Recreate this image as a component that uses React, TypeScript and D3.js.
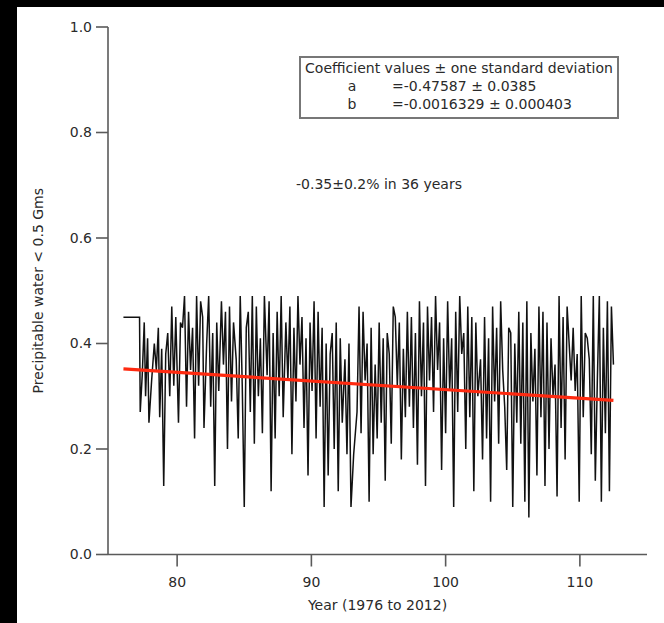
import React from "react";
import * as d3 from "d3";

// Observations: [year offset from 1900, precipitable water fraction]
const years: number[] = [
  76.0, 77.2, 77.25, 77.4, 77.55, 77.65, 77.8, 77.9, 78.1, 78.3, 78.45, 78.6, 78.7, 78.85, 79.0, 79.15, 79.3, 79.45, 79.6, 79.75, 79.9,
  80.1, 80.25, 80.4, 80.55, 80.7, 80.85, 81.0, 81.15, 81.3, 81.45, 81.6, 81.75, 81.9, 82.0, 82.2, 82.35, 82.5, 82.65, 82.8, 82.95,
  83.1, 83.3, 83.45, 83.6, 83.75, 83.9, 84.05, 84.2, 84.4, 84.55, 84.7, 84.85, 85.0, 85.15, 85.3, 85.45, 85.6, 85.75, 85.9,
  86.05, 86.2, 86.35, 86.5, 86.7, 86.85, 87.0, 87.15, 87.3, 87.45, 87.6, 87.75, 87.9, 88.1, 88.25, 88.4, 88.55, 88.7, 88.85,
  89.0, 89.15, 89.3, 89.45, 89.6, 89.75, 89.9, 90.05, 90.2, 90.35, 90.5, 90.65, 90.8, 90.95, 91.1, 91.25, 91.4, 91.55, 91.7, 91.85,
  92.0, 92.15, 92.3, 92.5, 92.65, 92.8, 92.95, 93.15, 93.4, 93.55, 93.7, 93.85, 94.0, 94.15, 94.3, 94.45, 94.6, 94.75, 94.9,
  95.05, 95.2, 95.35, 95.5, 95.65, 95.8, 95.95, 96.1, 96.25, 96.4, 96.55, 96.7, 96.85, 97.0, 97.15, 97.3, 97.45, 97.6, 97.75, 97.9,
  98.05, 98.2, 98.35, 98.5, 98.65, 98.8, 98.95, 99.1, 99.25, 99.4, 99.55, 99.7, 99.85, 100.0, 100.15, 100.3, 100.45, 100.6, 100.75, 100.9,
  101.05, 101.2, 101.35, 101.5, 101.65, 101.8, 101.95, 102.1, 102.25, 102.4, 102.6, 102.75, 102.9, 103.05, 103.2, 103.35, 103.5, 103.65, 103.8, 103.95,
  104.1, 104.25, 104.4, 104.55, 104.7, 104.85, 105.0, 105.15, 105.3, 105.45, 105.6, 105.75, 105.9, 106.05, 106.2, 106.35, 106.5, 106.65, 106.8, 106.95,
  107.1, 107.25, 107.4, 107.55, 107.7, 107.85, 108.0, 108.15, 108.3, 108.45, 108.6, 108.75, 108.9, 109.05, 109.2, 109.35, 109.5, 109.65, 109.8, 109.95,
  110.1, 110.25, 110.4, 110.55, 110.7, 110.85, 111.0, 111.15, 111.3, 111.45, 111.6, 111.75, 111.9, 112.05, 112.2, 112.35, 112.5,
];
const values: number[] = [
  0.45, 0.45, 0.27, 0.34, 0.44, 0.30, 0.41, 0.25, 0.33, 0.40, 0.35, 0.43, 0.26, 0.39, 0.13, 0.38, 0.42, 0.30, 0.47, 0.32, 0.45,
  0.25, 0.44, 0.43, 0.49, 0.28, 0.46, 0.35, 0.43, 0.22, 0.49, 0.32, 0.48, 0.45, 0.24, 0.40, 0.49, 0.28, 0.42, 0.13, 0.44,
  0.31, 0.48, 0.36, 0.46, 0.20, 0.47, 0.29, 0.44, 0.37, 0.22, 0.49, 0.32, 0.09, 0.43, 0.46, 0.27, 0.49, 0.21, 0.47,
  0.30, 0.41, 0.23, 0.49, 0.34, 0.48, 0.12, 0.42, 0.22, 0.46, 0.30, 0.49, 0.26, 0.44, 0.33, 0.47, 0.19, 0.43, 0.29,
  0.49, 0.36, 0.45, 0.24, 0.41, 0.15, 0.44, 0.31, 0.48, 0.22, 0.46, 0.28, 0.43, 0.09, 0.40, 0.15, 0.38, 0.42, 0.20, 0.44,
  0.12, 0.41, 0.25, 0.37, 0.19, 0.40, 0.09, 0.19, 0.27, 0.47, 0.23, 0.46, 0.33, 0.40, 0.10, 0.43, 0.19, 0.36, 0.22,
  0.44, 0.25, 0.41, 0.14, 0.42, 0.38, 0.21, 0.47, 0.45, 0.32, 0.44, 0.18, 0.39, 0.26, 0.46, 0.28, 0.45, 0.24, 0.42, 0.17,
  0.48, 0.30, 0.44, 0.13, 0.47, 0.33, 0.45, 0.27, 0.49, 0.35, 0.44, 0.16, 0.41, 0.23, 0.48, 0.31, 0.41, 0.09, 0.46, 0.27,
  0.49, 0.38, 0.42, 0.20, 0.47, 0.26, 0.45, 0.12, 0.44, 0.30, 0.37, 0.18, 0.45, 0.22, 0.41, 0.10, 0.47, 0.29, 0.43, 0.21,
  0.48, 0.35, 0.28, 0.16, 0.43, 0.42, 0.09, 0.40, 0.25, 0.46, 0.21, 0.44, 0.10, 0.48, 0.07, 0.42, 0.29, 0.39, 0.15, 0.47,
  0.26, 0.46, 0.13, 0.44, 0.20, 0.41, 0.30, 0.36, 0.11, 0.49, 0.24, 0.45, 0.18, 0.47, 0.40, 0.33, 0.43, 0.31, 0.38, 0.10,
  0.49, 0.26, 0.42, 0.41, 0.37, 0.19, 0.49, 0.14, 0.33, 0.49, 0.10, 0.43, 0.23, 0.48, 0.12, 0.47, 0.36,
];

// Linear fit coefficients: value = a + b * year
const coefA = 0.47587;
const coefB = -0.0016329;
const legendTitle = "Coefficient values \u00b1 one standard deviation";
const legendNames = ["a", "b"];
const legendValues = ["=-0.47587 \u00b1 0.0385", "=-0.0016329 \u00b1 0.000403"];
const annotation = "-0.35\u00b10.2% in 36 years";
const xTicks = [80, 90, 100, 110];
const yTicks = [0, 0.2, 0.4, 0.6, 0.8, 1.0];
const xTitle = "Year (1976 to 2012)";
const yTitle = "Precipitable water < 0.5 Gms";

const W = 664;
const H = 623;
const FONT = "'DejaVu Sans', Verdana, sans-serif";

export default function App() {
  const x = d3.scaleLinear().domain([74.85, 115]).range([108, 647]);
  const y = d3.scaleLinear().domain([0, 1]).range([554.5, 27]);
  const data = years.map((yr, i) => [yr, values[i]] as [number, number]);
  const line = d3
    .line<[number, number]>()
    .x((d) => x(d[0]))
    .y((d) => y(d[1]));
  const fitX = [years[0], years[years.length - 1]];
  const fit = fitX.map((yr) => [yr, coefA + coefB * yr] as [number, number]);
  const axisColor = "#5a5a5a";
  const textColor = "#2a2a2a";

  return (
    <svg
      width={W}
      height={H}
      style={{ position: "absolute", left: 0, top: 0, display: "block" }}
      fontFamily={FONT}
    >
      <rect x={0} y={0} width={W} height={H} fill="#000" />
      <rect x={17} y={7} width={W - 17} height={H - 7} fill="#fff" />

      {/* data */}
      <path d={line(data) || ""} fill="none" stroke="#111" strokeWidth={1.5} strokeLinejoin="miter" />
      <path d={line(fit) || ""} fill="none" stroke="#ff2a10" strokeWidth={3.2} />

      {/* y axis */}
      <line x1={x.range()[0]} x2={x.range()[0]} y1={y(1)} y2={y(0)} stroke={axisColor} strokeWidth={1.6} />
      {yTicks.map((t) => (
        <g key={"y" + t}>
          <line x1={x.range()[0] - 12} x2={x.range()[0]} y1={y(t)} y2={y(t)} stroke={axisColor} strokeWidth={1.6} />
          <text x={x.range()[0] - 16} y={y(t)} dy="0.35em" textAnchor="end" fontSize={14} fill={textColor}>
            {t.toFixed(1)}
          </text>
        </g>
      ))}

      {/* x axis */}
      <line x1={x.range()[0]} x2={x.range()[1]} y1={y(0)} y2={y(0)} stroke={axisColor} strokeWidth={1.6} />
      {xTicks.map((t) => (
        <g key={"x" + t}>
          <line x1={x(t)} x2={x(t)} y1={y(0)} y2={y(0) + 12} stroke={axisColor} strokeWidth={1.6} />
          <text x={x(t)} y={587} textAnchor="middle" fontSize={14} fill={textColor}>
            {t}
          </text>
        </g>
      ))}
      <text x={(x.range()[0] + x.range()[1]) / 2} y={610} textAnchor="middle" fontSize={14} fill={textColor}>
        {xTitle}
      </text>
      <text
        transform={`translate(43, ${(y(0) + y(1)) / 2}) rotate(-90)`}
        textAnchor="middle"
        fontSize={14}
        fill={textColor}
      >
        {yTitle}
      </text>

      {/* legend box */}
      <rect x={300} y={57} width={318} height={61} fill="#fff" stroke="#777" strokeWidth={2} />
      <text x={459} y={73} textAnchor="middle" fontSize={14} fill={textColor}>
        {legendTitle}
      </text>
      {legendNames.map((n, i) => (
        <g key={n}>
          <text x={352} y={91 + i * 18} textAnchor="middle" fontSize={14} fill={textColor}>
            {n}
          </text>
          <text x={392} y={91 + i * 18} fontSize={14} fill={textColor}>
            {legendValues[i]}
          </text>
        </g>
      ))}

      <text x={296} y={189} fontSize={14} fill={textColor}>
        {annotation}
      </text>
    </svg>
  );
}
